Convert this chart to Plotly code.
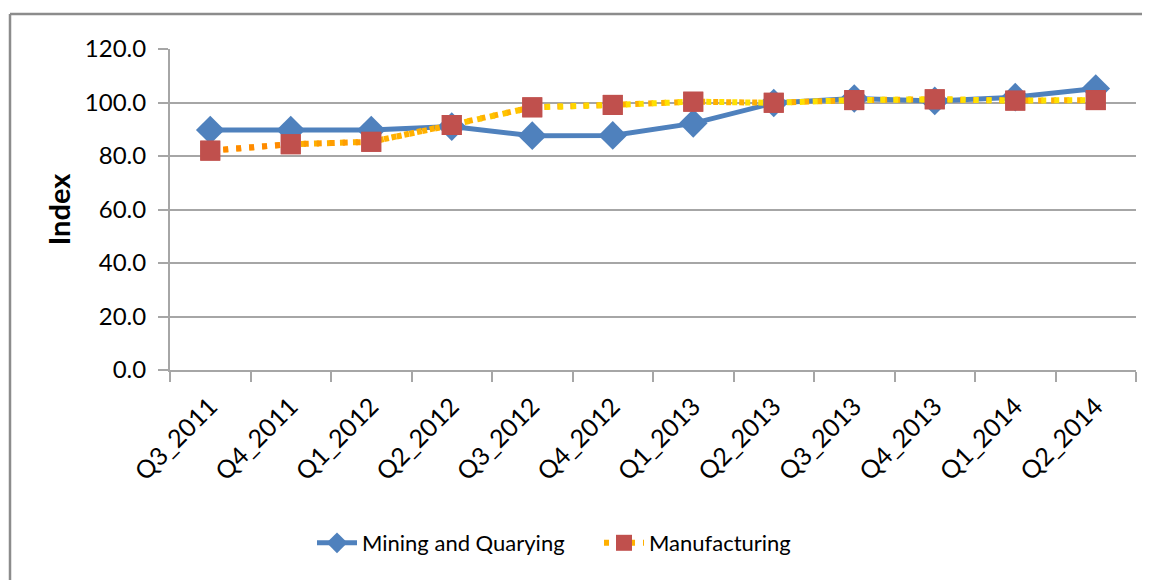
import plotly.graph_objects as go

quarters = ["Q3_2011", "Q4_2011", "Q1_2012", "Q2_2012", "Q3_2012", "Q4_2012",
            "Q1_2013", "Q2_2013", "Q3_2013", "Q4_2013", "Q1_2014", "Q2_2014"]
mining = [89.7, 89.7, 89.7, 91.0, 87.6, 87.7, 92.2, 99.8, 101.5, 100.6, 102.0, 105.2]
manufacturing = [82.0, 84.4, 85.3, 91.6, 98.2, 99.1, 100.3, 99.9, 100.9, 101.2, 100.7, 100.9]
y_ticks = [0, 20, 40, 60, 80, 100, 120]

FONT = "Lato"
GRID = "#A6A6A6"
BLUE = "#4F81BD"
RED = "#C0504D"

fig = go.Figure()

fig.add_trace(go.Scatter(
    x=quarters, y=mining, name="Mining and Quarying", mode="lines+markers",
    line=dict(color=BLUE, width=5),
    marker=dict(symbol="diamond", size=22, color=BLUE, line=dict(width=0)),
))

fig.add_trace(go.Scatter(
    x=quarters, y=manufacturing, name="Manufacturing", mode="lines+markers",
    line=dict(color="#FFB000", width=6, dash="5px,8px"),
    marker=dict(symbol="square", size=20, color=RED, line=dict(width=0)),
))

# gradient dotted line (orange -> yellow), one segment per interval
def mix(c1, c2, t):
    return "#%02X%02X%02X" % tuple(int(round(a + (b - a) * t)) for a, b in zip(c1, c2))

orange = (255, 128, 0)
yellow = (255, 224, 0)
n = len(quarters)
for i in range(n - 1):
    t = min(1.0, (i + 0.5) / 5.0)
    fig.add_trace(go.Scatter(
        x=quarters[i:i + 2], y=manufacturing[i:i + 2], mode="lines",
        line=dict(color=mix(orange, yellow, t), width=6, dash="5px,8px"),
        showlegend=False, hoverinfo="skip",
    ))

fig.add_trace(go.Scatter(
    x=quarters, y=manufacturing, mode="markers", showlegend=False,
    marker=dict(symbol="square", size=20, color=RED, line=dict(width=0)),
))

# page offset (browser body margin) of 8px
OFF = 8
FW, FH = 1150 - OFF, 580 - OFF
L, T, R, B = 170 - OFF, 49 - OFF, 1136 - OFF, 370 - OFF
W, H = R - L, B - T
bx0 = (10 - OFF - L) / W
bx1 = (FW + 20 - L) / W
by0 = -(FH + 20 - B) / H
by1 = 1 + (T - (14 - OFF)) / H
border = dict(color="#8C8C8C", width=2.5)
# outer chart border: top and left edges (right/bottom fall outside the picture)
fig.add_shape(type="line", xref="paper", yref="paper",
              x0=bx0, x1=bx1, y0=by1, y1=by1, line=border, layer="below")
fig.add_shape(type="line", xref="paper", yref="paper",
              x0=bx0, x1=bx0, y0=by0, y1=by1, line=border, layer="below")

fig.update_layout(
    width=FW, height=FH,
    margin=dict(l=L, r=FW - R, t=T, b=FH - B),
    paper_bgcolor="white", plot_bgcolor="white",
    font=dict(family=FONT, color="#000000"),
    showlegend=True,
    legend=dict(orientation="h", x=(304 - L) / W, y=-(535 - B) / H,
                xanchor="left", yanchor="middle",
                font=dict(family=FONT, size=22), itemwidth=40,
                entrywidth=232,
                bgcolor="rgba(0,0,0,0)"),
    xaxis=dict(
        type="category", range=[-0.5, n - 0.5], automargin=False,
        showline=True, linecolor=GRID, linewidth=2,
        ticks="outside", ticklen=10, tickcolor=GRID, tickwidth=1.5,
        tickson="boundaries", showgrid=False,
        tickangle=-45, tickfont=dict(family=FONT, size=25), ticklabelstandoff=10,
    ),
    yaxis=dict(
        range=[0, 120], tickvals=y_ticks, automargin=False,
        ticktext=[f"{v:.1f}" for v in y_ticks],
        showline=True, linecolor=GRID, linewidth=2,
        ticks="outside", ticklen=10, tickcolor=GRID, tickwidth=1.5,
        showgrid=True, gridcolor=GRID, gridwidth=1.5, zeroline=False,
        tickfont=dict(family=FONT, size=24), ticklabelstandoff=7,
        title=dict(text="<b>Index</b>", font=dict(family=FONT, size=29), standoff=6),
    ),
)

fig.write_html("out.html")
